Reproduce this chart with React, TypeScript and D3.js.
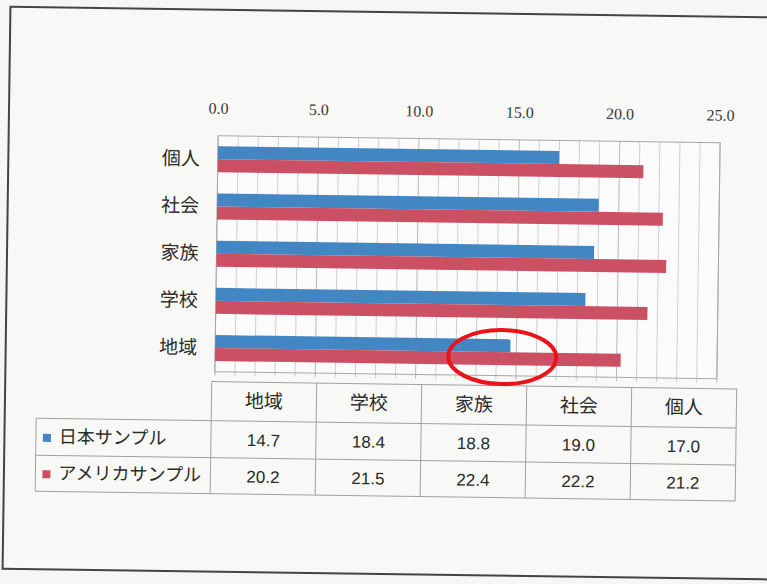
import React from "react";
import * as d3 from "d3";

const categories = ["地域", "学校", "家族", "社会", "個人"];
const seriesNames = ["日本サンプル", "アメリカサンプル"];
const japanValues = [14.7, 18.4, 18.8, 19.0, 17.0];
const usaValues = [20.2, 21.5, 22.4, 22.2, 21.2];
const xTicks = [0, 5, 10, 15, 20, 25];
const highlightCategory = "地域";

const W = 767;
const H = 584;
const BLUE = "#4286c3";
const RED = "#cb5064";
const CJK = "'Noto Sans CJK JP', sans-serif";
const NUM = "'Liberation Sans Narrow', 'Liberation Sans', sans-serif";

export default function App() {
  const plot = { left: 216, right: 718, top: 138, bottom: 374 };
  const x = d3.scaleLinear().domain([0, 25]).range([plot.left, plot.right]);
  const y = d3
    .scaleBand<string>()
    .domain([...categories].reverse())
    .range([plot.top, plot.bottom]);
  const barH = 13;
  const minor = d3.range(0, 26, 1);

  const tbl = { legendLeft: 38, left: 213, colW: 105, rows: [384, 423, 460, 496] };
  const series = [
    { name: seriesNames[0], values: japanValues, color: BLUE },
    { name: seriesNames[1], values: usaValues, color: RED },
  ];

  const hiIdx = categories.indexOf(highlightCategory);
  const hiX = x(japanValues[hiIdx] - 0.4);
  const hiY = (y(highlightCategory) as number) + y.bandwidth() / 2 + 5;

  return (
    <svg
      width={W}
      height={H}
      style={{ position: "absolute", left: 0, top: 0, background: "#f6f6f4" }}
    >
      <g transform="rotate(0.8, 383, 292)">
        {/* outer frame */}
        <rect x={6.5} y={12} width={800} height={562} fill="#f8f8f6" stroke="#444" strokeWidth={2} />

        {/* x tick labels */}
        {xTicks.map((t) => (
          <text
            key={t}
            x={x(t)}
            y={116}
            textAnchor="middle"
            fontFamily="'Liberation Serif', serif"
            fontSize={16}
            fill="#3a3a3a"
          >
            {t.toFixed(1)}
          </text>
        ))}

        {/* plot background + grid */}
        <rect x={plot.left} y={plot.top} width={plot.right - plot.left} height={plot.bottom - plot.top} fill="#fbfbfb" />
        {minor.map((t) => (
          <line
            key={t}
            x1={x(t)}
            x2={x(t)}
            y1={plot.top}
            y2={plot.bottom + 4}
            stroke={t % 5 === 0 ? "#b8b8b8" : "#cfcfcf"}
            strokeWidth={1}
          />
        ))}
        <rect
          x={plot.left}
          y={plot.top}
          width={plot.right - plot.left}
          height={plot.bottom - plot.top}
          fill="none"
          stroke="#a8a8a8"
          strokeWidth={1}
        />

        {/* bars */}
        {categories.map((c, i) => {
          const cy = (y(c) as number) + y.bandwidth() / 2;
          return (
            <g key={c}>
              <rect x={x(0)} y={cy - barH} width={x(japanValues[i]) - x(0)} height={barH} fill={BLUE} />
              <rect x={x(0)} y={cy} width={x(usaValues[i]) - x(0)} height={barH} fill={RED} />
              <text
                x={198}
                y={cy + 1}
                textAnchor="end"
                dominantBaseline="middle"
                fontFamily={CJK}
                fontSize={19}
                fill="#2a2a2a"
              >
                {c}
              </text>
            </g>
          );
        })}

        {/* data table */}
        <g stroke="#a0a0a0" strokeWidth={1} fill="none">
          <line x1={tbl.left} x2={tbl.left + tbl.colW * 5} y1={tbl.rows[0]} y2={tbl.rows[0]} />
          {tbl.rows.slice(1).map((r) => (
            <line key={r} x1={tbl.legendLeft} x2={tbl.left + tbl.colW * 5} y1={r} y2={r} />
          ))}
          <line x1={tbl.legendLeft} x2={tbl.legendLeft} y1={tbl.rows[1]} y2={tbl.rows[3]} />
          {d3.range(0, 6).map((k) => (
            <line
              key={k}
              x1={tbl.left + tbl.colW * k}
              x2={tbl.left + tbl.colW * k}
              y1={tbl.rows[0]}
              y2={tbl.rows[3]}
            />
          ))}
        </g>
        {categories.map((c, k) => (
          <text
            key={c}
            x={tbl.left + tbl.colW * (k + 0.5)}
            y={(tbl.rows[0] + tbl.rows[1]) / 2 + 1}
            textAnchor="middle"
            dominantBaseline="middle"
            fontFamily={CJK}
            fontSize={19}
            fill="#2a2a2a"
          >
            {c}
          </text>
        ))}
        {series.map((s, r) => {
          const cy = (tbl.rows[r + 1] + tbl.rows[r + 2]) / 2 + 1;
          return (
            <g key={s.name}>
              <rect x={45} y={cy - 4} width={8} height={8} fill={s.color} />
              <text
                x={61}
                y={cy}
                dominantBaseline="middle"
                fontFamily={CJK}
                fontSize={18}
                fill="#2a2a2a"
              >
                {s.name}
              </text>
              {s.values.map((v, k) => (
                <text
                  key={k}
                  x={tbl.left + tbl.colW * (k + 0.5)}
                  y={cy + 1}
                  textAnchor="middle"
                  dominantBaseline="middle"
                  fontFamily={NUM}
                  fontSize={17}
                  fill="#2a2a2a"
                >
                  {v.toFixed(1)}
                </text>
              ))}
            </g>
          );
        })}

        {/* highlight annotation */}
        <ellipse cx={hiX} cy={hiY} rx={54} ry={27} fill="none" stroke="#e8141a" strokeWidth={4} />
      </g>
    </svg>
  );
}
